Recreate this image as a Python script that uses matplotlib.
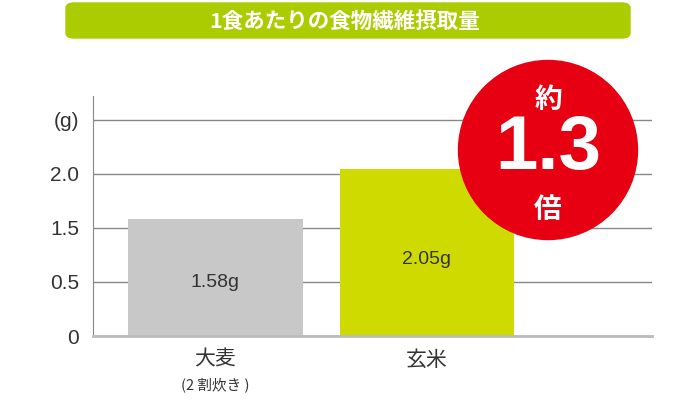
import matplotlib.pyplot as plt
import numpy as np
from matplotlib.patches import Circle, FancyBboxPatch

plt.rcParams['font.family'] = ['Noto Sans CJK JP', 'DejaVu Sans']
num_font = ['Liberation Sans', 'Noto Sans CJK JP']

categories = ['大麦', '玄米']
sub_labels = ['(2 割炊き )', '']
values = [1.58, 2.05]
value_labels = ['1.58g', '2.05g']
bar_colors = ['#c8c8c9', '#cfdb00']
tick_values = [0, 0.5, 1.5, 2.0, 2.5]
tick_labels = ['0', '0.5', '1.5', '2.0', '(g)']
title = '1食あたりの食物繊維摂取量'
ratio_text = ['約', '1.3', '倍']

# axis is not linear: the labelled values sit at equal spacing
knots_v = [0, 0.5, 1.5, 2.0, 2.5, 3.0]
knots_p = [0, 1, 2, 3, 4, 5]


def fwd(v):
    return np.interp(v, knots_v, knots_p)


def inv(p):
    return np.interp(p, knots_p, knots_v)


fig = plt.figure(figsize=(7, 4), dpi=100)
ax = fig.add_axes([93 / 700, 64 / 400, 559 / 700, 240 / 400])
ax.set_yscale('function', functions=(fwd, inv))

x = np.arange(len(categories))
ax.bar(x, values, width=0.827, color=bar_colors, zorder=2)
for xi, v, lab in zip(x, values, value_labels):
    ax.text(xi, inv(fwd(v) * 0.455), lab, ha='center', va='center',
            fontsize=14, color='#333333', zorder=3, family=num_font)

ax.set_xlim(-0.579, 2.064)
ax.set_ylim(0, inv(4.444))
ax.set_yticks(tick_values)
ax.set_yticklabels(tick_labels, fontsize=15, color='#333333', family=num_font)
ax.yaxis.grid(True, color='#888888', linewidth=1)
ax.set_axisbelow(True)
ax.tick_params(axis='y', length=0, pad=10)
ax.tick_params(axis='x', length=0)
ax.set_xticks(x)
ax.set_xticklabels([])
for xi, c, s in zip(x, categories, sub_labels):
    ax.annotate(c, (xi, 0), xytext=(0, -17), textcoords='offset points',
                ha='center', va='center', fontsize=15, color='#333333')
    if s:
        ax.annotate(s, (xi, 0), xytext=(0, -35), textcoords='offset points',
                    ha='center', va='center', fontsize=10.5, color='#333333')

for sp in ['top', 'right']:
    ax.spines[sp].set_visible(False)
ax.spines['left'].set_color('#888888')
ax.spines['left'].set_bounds(0, inv(4.444))
ax.spines['bottom'].set_color('#bbbbbb')
ax.spines['bottom'].set_linewidth(2)

# title banner
banner = FancyBboxPatch((66 / 700, 1 - 38 / 400), 564 / 700, 35 / 400,
                        boxstyle='round,pad=0,rounding_size=0.012',
                        transform=fig.transFigure, color='#aacc00')
fig.add_artist(banner)
fig.text(345 / 700, 1 - 21 / 400, title, ha='center', va='center',
         fontsize=15.5, color='white', fontweight='bold')

# red badge
badge = Circle((5.48, 2.50), 0.895, transform=fig.dpi_scale_trans,
               color='#e60012', zorder=5)
fig.add_artist(badge)
fig.text(548 / 700, 1 - 100 / 400, ratio_text[0], ha='center', va='center',
         fontsize=20, color='white', fontweight='bold', zorder=6)
fig.text(548 / 700, 1 - 150 / 400, ratio_text[1], ha='center', va='center',
         fontsize=55, color='white', fontweight='bold', zorder=6,
         family=num_font)
fig.text(548 / 700, 1 - 210 / 400, ratio_text[2], ha='center', va='center',
         fontsize=20, color='white', fontweight='bold', zorder=6)

fig.savefig('out.png', dpi=100)
